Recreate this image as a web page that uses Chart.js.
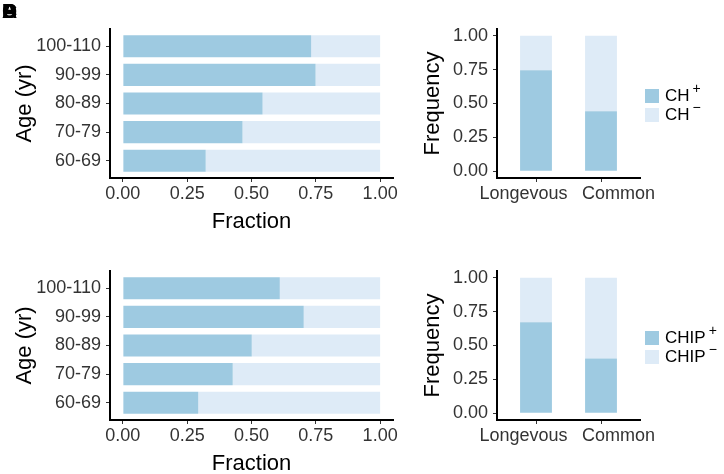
<!DOCTYPE html>
<html lang="en">
<head>
    <meta charset="UTF-8">
    <title>CH / CHIP frequency</title>
    <script src="https://cdn.jsdelivr.net/npm/chart.js"></script>
    <style>
        html, body {
            margin: 0;
            padding: 0;
            background: #fff;
            overflow: hidden;
        }
        body {
            width: 724px;
            height: 474px;
            position: relative;
            font-family: 'Liberation Sans', Arial, sans-serif;
        }
        .panel {
            position: absolute;
            height: 237px;
        }
        .panel.left { left: 0; width: 400px; }
        .panel.right { left: 400px; width: 324px; }
        .panel.top { top: 0; }
        .panel.bottom { top: 242px; }
        .tag {
            position: absolute;
            left: 2px;
            top: 0px;
            font-size: 21px;
            line-height: 21px;
            font-weight: bold;
            color: #000;
        }
        .legend {
            position: absolute;
            left: 645px;
            white-space: nowrap;
        }
        .legend .item {
            display: flex;
            align-items: center;
            height: 19px;
            font-size: 17px;
            color: #000;
        }
        .legend .box {
            width: 14px;
            height: 14px;
            margin-right: 6px;
        }
        .legend sup {
            font-size: 14px;
            line-height: 0;
            vertical-align: baseline;
            position: relative;
            top: -8px;
            margin-left: 3px;
        }
    </style>
</head>
<body>
    <div class="panel left top"><canvas id="chA"></canvas></div>
    <div class="panel right top"><canvas id="chB"></canvas></div>
    <div class="panel left bottom"><canvas id="chC"></canvas></div>
    <div class="panel right bottom"><canvas id="chD"></canvas></div>
    <div class="legend" id="legB" style="top: 86px;"></div>
    <div class="legend" id="legD" style="top: 328px;"></div>
    <!-- panel letters sit on top of each other in the source figure -->
    <span class="tag">A</span><span class="tag">B</span><span class="tag">C</span><span class="tag">D</span>

    <script>
        // data
        const ageGroups = ['100-110', '90-99', '80-89', '70-79', '60-69'];
        const chPos = [0.732, 0.749, 0.543, 0.465, 0.322];
        const chNeg = [0.268, 0.251, 0.457, 0.535, 0.678];
        const chipPos = [0.610, 0.703, 0.501, 0.427, 0.293];
        const chipNeg = [0.390, 0.297, 0.499, 0.573, 0.707];

        const cohorts = ['Longevous', 'Common'];
        const chFreqPos = [0.746, 0.443];
        const chFreqNeg = [0.254, 0.557];
        const chipFreqPos = [0.672, 0.404];
        const chipFreqNeg = [0.328, 0.596];

        const fracTicks = [0, 0.25, 0.5, 0.75, 1];
        const signs = ['+', '\u2212'];

        const DARK = '#9ecae1';
        const LIGHT = '#deebf7';
        const FONT = "'Liberation Sans', Arial, sans-serif";
        Chart.defaults.font.family = FONT;
        Chart.defaults.animation = false;

        const tickFont = { size: 18 };
        const titleFont = { size: 22 };
        const TICK_COLOR = '#333';

        function axisLook() {
            return {
                offset: false,
                grid: { display: true, offset: false, drawOnChartArea: false, drawTicks: true, tickLength: 4, color: '#333', tickWidth: 1 },
                border: { display: true, color: '#000', width: 2 }
            };
        }

        // horizontal fraction bars (left panels)
        function ageChart(id, pos, neg) {
            new Chart(document.getElementById(id), {
                type: 'bar',
                data: {
                    datasets: [
                        { data: ageGroups.map((g, i) => ({ x: pos[i], y: i + 1 })), backgroundColor: DARK },
                        { data: ageGroups.map((g, i) => ({ x: neg[i], y: i + 1 })), backgroundColor: LIGHT }
                    ]
                },
                options: {
                    indexAxis: 'y',
                    responsive: true,
                    maintainAspectRatio: false,
                    layout: { padding: { top: 29, right: 7, left: 0, bottom: 0 } },
                    datasets: { bar: { barPercentage: 0.77, categoryPercentage: 1 } },
                    plugins: { legend: { display: false }, tooltip: { enabled: false } },
                    scales: {
                        x: {
                            type: 'linear', min: -0.05, max: 1.05, stacked: true,
                            afterBuildTicks: s => { s.ticks = fracTicks.map(v => ({ value: v })); },
                            ticks: { callback: v => v.toFixed(2), color: TICK_COLOR, font: tickFont, padding: 1, maxRotation: 0, autoSkip: false },
                            title: { display: true, text: 'Fraction', color: '#000', font: titleFont, padding: { top: 0, bottom: 2 } },
                            afterFit: s => { s.height = 59; },
                            ...axisLook()
                        },
                        y: {
                            type: 'linear', min: 0.4, max: 5.6, reverse: true, stacked: true,
                            afterBuildTicks: s => { s.ticks = ageGroups.map((g, i) => ({ value: i + 1 })); },
                            ticks: { callback: (v, i) => ageGroups[i], color: TICK_COLOR, font: tickFont, padding: 5, autoSkip: false },
                            title: { display: true, text: 'Age (yr)', color: '#000', font: titleFont, padding: { top: 12, bottom: 0 } },
                            afterFit: s => { s.width = 110; },
                            ...axisLook()
                        }
                    }
                }
            });
        }

        // vertical frequency bars (right panels)
        function cohortChart(id, legendId, pos, neg, name) {
            const chart = new Chart(document.getElementById(id), {
                type: 'bar',
                data: {
                    datasets: [
                        { label: name + signs[0], data: cohorts.map((c, i) => ({ x: i + 1, y: pos[i] })), backgroundColor: DARK },
                        { label: name + signs[1], data: cohorts.map((c, i) => ({ x: i + 1, y: neg[i] })), backgroundColor: LIGHT }
                    ]
                },
                options: {
                    responsive: true,
                    maintainAspectRatio: false,
                    layout: { padding: { top: 29, right: 84, left: 0, bottom: 0 } },
                    datasets: { bar: { barPercentage: 0.49, categoryPercentage: 1 } },
                    plugins: { legend: { display: false }, tooltip: { enabled: false } },
                    scales: {
                        x: {
                            type: 'linear', min: 0.4, max: 2.6, stacked: true,
                            afterBuildTicks: s => { s.ticks = cohorts.map((c, i) => ({ value: i + 1 })); },
                            // the source nudges the two labels apart
                            ticks: {
                                callback: (v, i) => i === 0 ? cohorts[i] + '     ' : '       ' + cohorts[i],
                                color: TICK_COLOR, font: tickFont, padding: 1, maxRotation: 0, autoSkip: false
                            },
                            afterFit: s => { s.height = 59; },
                            ...axisLook()
                        },
                        y: {
                            type: 'linear', min: -0.05, max: 1.05, stacked: true,
                            afterBuildTicks: s => { s.ticks = fracTicks.map(v => ({ value: v })); },
                            ticks: { callback: v => v.toFixed(2), color: TICK_COLOR, font: tickFont, padding: 5, autoSkip: false },
                            title: { display: true, text: 'Frequency', color: '#000', font: titleFont, padding: { top: 20, bottom: 0 } },
                            afterFit: s => { s.width = 97; },
                            ...axisLook()
                        }
                    }
                }
            });

            // html legend so the +/- can be real superscripts
            const leg = document.getElementById(legendId);
            chart.data.datasets.forEach((ds, i) => {
                const item = document.createElement('div');
                item.className = 'item';
                item.innerHTML = '<span class="box" style="background:' + ds.backgroundColor + '"></span>' +
                    name + '<sup>' + signs[i] + '</sup>';
                leg.appendChild(item);
            });
        }

        ageChart('chA', chPos, chNeg);
        cohortChart('chB', 'legB', chFreqPos, chFreqNeg, 'CH');
        ageChart('chC', chipPos, chipNeg);
        cohortChart('chD', 'legD', chipFreqPos, chipFreqNeg, 'CHIP');
    </script>
</body>
</html>
